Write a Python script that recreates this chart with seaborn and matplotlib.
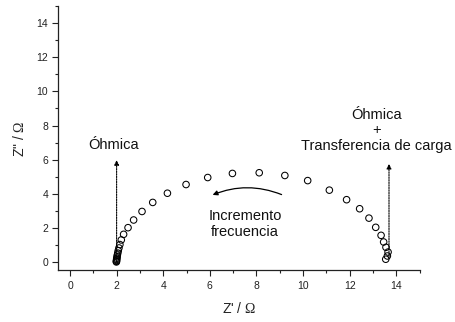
import matplotlib
matplotlib.use("Agg")
import matplotlib.pyplot as plt
from matplotlib.ticker import MultipleLocator
import seaborn as sns
import pandas as pd

# Nyquist data: real part Z' and negative imaginary part Z'' (ohm)
z_real = [1.99, 1.99, 2.00, 2.00, 2.01, 2.02, 2.03, 2.05, 2.07, 2.10, 2.14,
          2.20, 2.30, 2.49, 2.73, 3.09, 3.55, 4.18, 4.98, 5.91, 6.97, 8.12,
          9.22, 10.20, 11.13, 11.87, 12.43, 12.83, 13.12, 13.35, 13.46, 13.56,
          13.65, 13.62, 13.55]
z_imag = [0.00, 0.04, 0.09, 0.15, 0.22, 0.30, 0.40, 0.52, 0.66, 0.82, 1.02,
          1.29, 1.62, 2.01, 2.46, 2.96, 3.49, 4.03, 4.54, 4.95, 5.19, 5.23,
          5.07, 4.77, 4.21, 3.65, 3.12, 2.57, 2.03, 1.56, 1.17, 0.86,
          0.58, 0.35, 0.16]

x_ticks = [0, 2, 4, 6, 8, 10, 12, 14]
y_ticks = [0, 2, 4, 6, 8, 10, 12, 14]

# Resistances read on the real axis
r_ohmic = 2.0
r_total = 13.69

sns.set_theme(style="ticks")
plt.rcParams["font.family"] = ["Liberation Sans", "DejaVu Sans"]
plt.rcParams["mathtext.fontset"] = "custom"
plt.rcParams["mathtext.rm"] = "Liberation Serif"
plt.rcParams["axes.edgecolor"] = "#222222"
plt.rcParams["axes.linewidth"] = 0.9

fig = plt.figure(figsize=(4.56, 3.22), dpi=100)
ax = fig.add_axes([0.128, 0.160, 0.792, 0.821])

df = pd.DataFrame({"Zr": z_real, "Zi": z_imag})
sns.scatterplot(data=df, x="Zr", y="Zi", ax=ax, marker="o", s=22,
                facecolors="none", edgecolor="black", linewidth=0.75,
                zorder=3)

ax.set_xlim(-0.5, 15)
ax.set_ylim(-0.5, 15)
ax.set_xticks(x_ticks)
ax.set_yticks(y_ticks)
ax.xaxis.set_minor_locator(MultipleLocator(1))
ax.yaxis.set_minor_locator(MultipleLocator(1))
ax.tick_params(which="major", direction="out", length=4.3, width=0.8,
               labelsize=7.5, colors="#222222", labelcolor="#222222", pad=3)
ax.tick_params(which="minor", direction="out", length=2.2, width=0.8,
               colors="#222222")
sns.despine(ax=ax)

ax.set_xlabel("Z' / $\\mathrm{\\Omega}$", fontsize=10, color="#222222")
ax.set_ylabel('Z" / $\\mathrm{\\Omega}$', fontsize=10, color="#222222")
ax.xaxis.set_label_coords(0.5, -0.115)
ax.yaxis.set_label_coords(-0.088, 0.5)

# Dotted arrows marking the resistances on the real axis
dotted = dict(arrowstyle="-|>", linestyle=(0, (1.3, 1.0)), lw=0.8,
              color="black", mutation_scale=7, shrinkA=0, shrinkB=0)
ax.annotate("", xy=(r_ohmic, 5.97), xytext=(r_ohmic, 0.0), arrowprops=dotted)
ax.annotate("", xy=(r_total, 5.75), xytext=(r_total, 0.25), arrowprops=dotted)

ax.text(1.89, 6.84, "Óhmica", ha="center", va="center", fontsize=10.5,
        color="#111111")
ax.text(13.15, 7.72, "Óhmica\n+\nTransferencia de carga", ha="center",
        va="center", fontsize=10.5, linespacing=1.15, color="#111111",
        clip_on=False)

# Curved arrow showing the direction of increasing frequency
ax.annotate("", xy=(6.12, 3.93), xytext=(9.08, 3.95),
            arrowprops=dict(arrowstyle="-|>", lw=0.9, color="black",
                            mutation_scale=7, shrinkA=0, shrinkB=0,
                            connectionstyle="arc3,rad=0.2"))
ax.text(7.51, 2.22, "Incremento\nfrecuencia", ha="center", va="center",
        fontsize=10.5, linespacing=1.15, color="#111111")

fig.savefig("out.png", dpi=100)
